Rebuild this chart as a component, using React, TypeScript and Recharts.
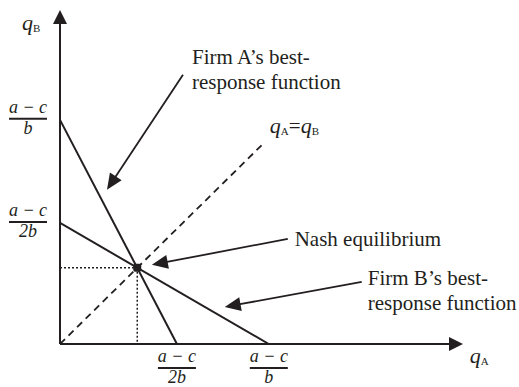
import React from "react";
import { ComposedChart, Line, XAxis, YAxis, ReferenceLine, ReferenceDot } from "recharts";

const INK = "#231f20";
const SERIF = "Liberation Serif, Times New Roman, serif";

// best-response functions, as (q_A, q_B) end points
const firmA = [{ x: 0, y: 1 }, { x: 0.56, y: 0 }];
const firmB = [{ x: 0, y: 0.54 }, { x: 1, y: 0 }];
// the q_A = q_B ray
const diagonal = [{ x: 0, y: 0 }, { x: 0.98, y: 0.9 }];
const nash = { x: 0.37, y: 0.34 };

const X_MAX = 1.93;
const Y_MAX = 1.49;

const xTicks = [0.56, 1];
const xTickDenoms = ["2b", "b"];
const yTicks = [0.54, 1];
const yTickDenoms = ["2b", "b"];
const NUMERATOR = "a − c";

// callout arrows: tail -> tip
const arrows = [
  { from: [0.589, 1.201], to: [0.225, 0.688] },
  { from: [1.091, 0.469], to: [0.44, 0.353] },
  { from: [1.445, 0.277], to: [0.789, 0.165] },
];

const notes = [
  { x: 0.632, y: 1.25, lines: ["Firm A’s best-", "response function"] },
  { x: 1.124, y: 0.4375, lines: ["Nash equilibrium"] },
  { x: 1.474, y: 0.263, lines: ["Firm B’s best-", "response function"] },
];

const serif = (size: number, italic = false): React.CSSProperties => ({
  fontFamily: SERIF,
  fontSize: size,
  fontStyle: italic ? "italic" : "normal",
});

function arrowShape(head: number, halfW: number, sw: number) {
  return (props: any) => {
    const { x1, y1, x2, y2 } = props;
    const dx = x2 - x1;
    const dy = y2 - y1;
    const len = Math.hypot(dx, dy) || 1;
    const ux = dx / len;
    const uy = dy / len;
    const bx = x2 - ux * head;
    const by = y2 - uy * head;
    const pts = `${x2},${y2} ${bx - uy * halfW},${by + ux * halfW} ${bx + uy * halfW},${by - ux * halfW}`;
    return (
      <g>
        <line x1={x1} y1={y1} x2={bx + ux * 2} y2={by + uy * 2} stroke={INK} strokeWidth={sw} />
        <polygon points={pts} fill={INK} />
      </g>
    );
  };
}

function Fraction({ cx, barY, denom }: { cx: number; barY: number; denom: string }) {
  return (
    <g fill={INK} textAnchor="middle">
      <text x={cx} y={barY - 6} style={serif(18, true)}>{NUMERATOR}</text>
      <line x1={cx - 19} x2={cx + 19} y1={barY} y2={barY} stroke={INK} strokeWidth={2} />
      <text x={cx} y={barY + 15} style={serif(18, true)}>{denom}</text>
    </g>
  );
}

const XTick = (props: any) => {
  const i = xTicks.indexOf(props.payload.value);
  return <Fraction cx={props.x} barY={props.y + 24} denom={xTickDenoms[i] ?? ""} />;
};

const YTick = (props: any) => {
  const i = yTicks.indexOf(props.payload.value);
  return <Fraction cx={props.x - 32} barY={props.y - 1} denom={yTickDenoms[i] ?? ""} />;
};

function QLabel({ x, y, sub, size }: { x: number; y: number; sub: string; size: number }) {
  return (
    <text x={x} y={y} fill={INK}>
      <tspan style={serif(size, true)}>q</tspan>
      <tspan style={serif(size * 0.5)} dy={2}>{sub}</tspan>
    </text>
  );
}

export default function App() {
  return (
    <div style={{ position: "absolute", left: 0, top: 0, background: "#fff" }}>
      <ComposedChart width={519} height={387} margin={{ top: 10, right: 56, bottom: 0, left: 0 }}>
        <XAxis
          type="number"
          dataKey="x"
          domain={[0, X_MAX]}
          ticks={xTicks}
          allowDataOverflow
          axisLine={false}
          tickLine={false}
          tickSize={0}
          tickMargin={0}
          height={43}
          tick={<XTick />}
        />
        <YAxis
          type="number"
          dataKey="y"
          domain={[0, Y_MAX]}
          ticks={yTicks}
          allowDataOverflow
          axisLine={false}
          tickLine={false}
          tickSize={0}
          tickMargin={0}
          width={60}
          tick={<YTick />}
        />

        {/* axes with arrowheads */}
        <ReferenceLine
          segment={[{ x: 0, y: 0 }, { x: X_MAX, y: 0 }]}
          ifOverflow="visible"
          shape={arrowShape(14, 7, 2)}
        />
        <ReferenceLine
          segment={[{ x: 0, y: 0 }, { x: 0, y: Y_MAX }]}
          ifOverflow="visible"
          shape={arrowShape(14, 7, 2)}
        />

        {/* dotted guides to the equilibrium */}
        <ReferenceLine
          segment={[{ x: 0, y: nash.y }, { x: nash.x, y: nash.y }]}
          stroke={INK}
          strokeWidth={1.5}
          strokeDasharray="2 2"
        />
        <ReferenceLine
          segment={[{ x: nash.x, y: nash.y }, { x: nash.x, y: 0 }]}
          stroke={INK}
          strokeWidth={1.5}
          strokeDasharray="2 2"
        />

        <Line data={diagonal} dataKey="y" stroke={INK} strokeWidth={1.8} strokeDasharray="7 5" dot={false} isAnimationActive={false} />
        <Line data={firmA} dataKey="y" stroke={INK} strokeWidth={2} dot={false} isAnimationActive={false} />
        <Line data={firmB} dataKey="y" stroke={INK} strokeWidth={2} dot={false} isAnimationActive={false} />

        <ReferenceDot
          x={nash.x}
          y={nash.y}
          shape={(p: any) => <rect x={p.cx - 4} y={p.cy - 4} width={8} height={8} rx={2} fill={INK} />}
        />

        {arrows.map((a, i) => (
          <ReferenceLine
            key={`arrow-${i}`}
            segment={[{ x: a.from[0], y: a.from[1] }, { x: a.to[0], y: a.to[1] }]}
            ifOverflow="visible"
            shape={arrowShape(16, 7, 1.8)}
          />
        ))}

        {notes.map((n, i) => (
          <ReferenceDot
            key={`note-${i}`}
            x={n.x}
            y={n.y}
            ifOverflow="visible"
            shape={(p: any) => (
              <text x={p.cx} y={p.cy} fill={INK} style={serif(21)}>
                {n.lines.map((line, j) => (
                  <tspan key={j} x={p.cx} dy={j === 0 ? 0 : 25}>
                    {line}
                  </tspan>
                ))}
              </text>
            )}
          />
        ))}

        {/* axis names and the q_A = q_B tag */}
        <ReferenceDot
          x={-0.182}
          y={1.402}
          ifOverflow="visible"
          shape={(p: any) => <QLabel x={p.cx} y={p.cy} sub="B" size={22} />}
        />
        <ReferenceDot
          x={1.962}
          y={-0.085}
          ifOverflow="visible"
          shape={(p: any) => <QLabel x={p.cx} y={p.cy} sub="A" size={22} />}
        />
        <ReferenceDot
          x={1.005}
          y={0.942}
          ifOverflow="visible"
          shape={(p: any) => (
            <text x={p.cx} y={p.cy} fill={INK}>
              <tspan style={serif(22, true)}>q</tspan>
              <tspan style={serif(11)} dy={2}>A</tspan>
              <tspan style={serif(21)} dy={-2}>=</tspan>
              <tspan style={serif(22, true)}>q</tspan>
              <tspan style={serif(11)} dy={2}>B</tspan>
            </text>
          )}
        />
      </ComposedChart>
    </div>
  );
}
